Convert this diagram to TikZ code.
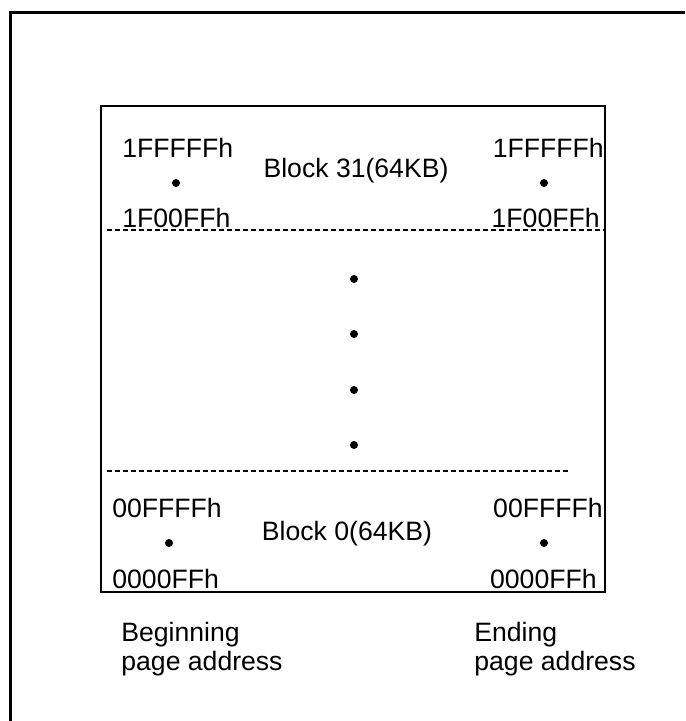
\documentclass[tikz,border=0pt]{standalone}
\usepackage{fontspec}
\setmainfont{Liberation Sans}
\usepackage{tikz}
\usetikzlibrary{positioning}

\begin{document}
\begin{tikzpicture}[
  x=0.5pt, y=-0.5pt,
  addr/.style={inner sep=0pt, font=\fontsize{13.3}{16}\selectfont},
  blocklabel/.style={inner sep=0pt, font=\fontsize{13.3}{16}\selectfont},
  caption/.style={inner sep=0pt, align=left, font=\fontsize{13.3}{14.5}\selectfont},
  sep/.style={line width=0.75pt, dash pattern=on 2.5pt off 1.5pt},
  dotmark/.style={circle, fill, inner sep=0pt, minimum size=4pt},
]
  \useasboundingbox (0,0) rectangle (685,721);

  % -- Outer frame --
  \draw[line width=1.5pt] (10.5,721) -- (10.5,12.5) -- (685,12.5);

  % -- Memory array --
  \draw[line width=1pt] (100.5,106) rectangle (605,592);
  \coordinate (sepTopL) at (107,230);
  \coordinate (sepTopR) at (605,230);
  \coordinate (sepBotL) at (107,471);
  \coordinate (sepBotR) at (568,471);
  \draw[sep] (sepTopL) -- (sepTopR);
  \draw[sep] (sepBotL) -- (sepBotR);

  % -- Block 31 --
  \node[addr, anchor=base west] (b31begHi) at (122,158) {1FFFFFh};
  \node[dotmark] (b31begDot) at (176,183) {};
  \node[addr, anchor=base west] (b31begLo) at (122,228) {1F00FFh};
  \node[blocklabel, anchor=base] (b31) at (356,178) {Block 31(64KB)};
  \node[addr, anchor=base east] (b31endHi) at (604,158) {1FFFFFh};
  \node[dotmark] (b31endDot) at (544,183) {};
  \node[addr, anchor=base east] (b31endLo) at (600,228) {1F00FFh};

  % -- Blocks in between --
  \foreach \yy [count=\i] in {279,334,390,445}
    \node[dotmark] (mid\i) at (354,\yy) {};

  % -- Block 0 --
  \node[addr, anchor=base west] (b0begHi) at (112,517) {00FFFFh};
  \node[dotmark] (b0begDot) at (169,543) {};
  \node[addr, anchor=base west] (b0begLo) at (112,588) {0000FFh};
  \node[blocklabel, anchor=base] (b0) at (347,540) {Block 0(64KB)};
  \node[addr, anchor=base east] (b0endHi) at (603,517) {00FFFFh};
  \node[dotmark] (b0endDot) at (544,543) {};
  \node[addr, anchor=base east] (b0endLo) at (597,588) {0000FFh};

  % -- Column captions --
  \node[caption, anchor=base west] (begcap) at (121,670) {Beginning\\page address};
  \node[caption, anchor=base west] (endcap) at (474,670) {Ending\\page address};

\end{tikzpicture}
\end{document}
